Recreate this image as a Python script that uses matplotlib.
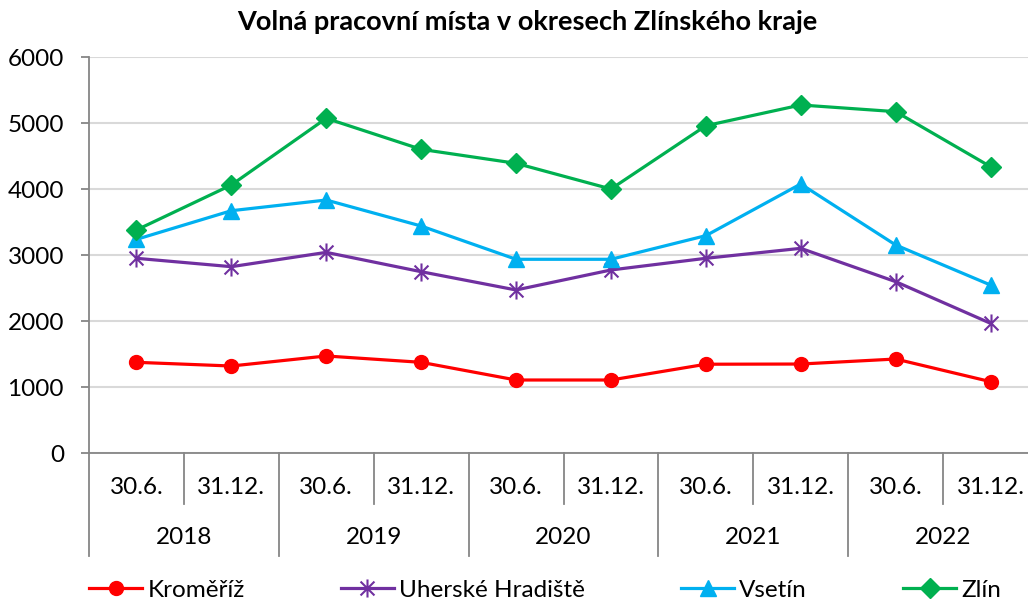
import matplotlib
matplotlib.use("Agg")
import matplotlib.pyplot as plt
from matplotlib.path import Path
from matplotlib.lines import Line2D

# data
dates = ["30.6.", "31.12."] * 5
years = ["2018", "2019", "2020", "2021", "2022"]
kromeriz = [1374, 1318, 1470, 1374, 1106, 1106, 1345, 1348, 1424, 1081]
uh_hradiste = [2950, 2823, 3040, 2747, 2470, 2773, 2950, 3101, 2596, 1965]
vsetin = [3237, 3671, 3833, 3439, 2935, 2935, 3293, 4076, 3152, 2545]
zlin = [3379, 4061, 5071, 4601, 4389, 4000, 4959, 5273, 5172, 4338]

plt.rcParams['font.family'] = ['Lato', 'DejaVu Sans']
gray = '#868686'
fs = 17.5

# excel-like star: X plus vertical bar
star = Path([(-1, -1), (1, 1), (-1, 1), (1, -1), (0, -1.3), (0, 1.3)],
            [Path.MOVETO, Path.LINETO, Path.MOVETO, Path.LINETO, Path.MOVETO, Path.LINETO])

W, H = 1028, 603
fig = plt.figure(figsize=(W / 100, H / 100), dpi=100)
ax = fig.add_axes([89 / W, (H - 453) / H, 949 / W, 396 / H])

x = list(range(len(dates)))
ax.plot(x, kromeriz, color='#FF0000', lw=2.3, marker='o', ms=10, label='Kroměříž')
ax.plot(x, uh_hradiste, color='#7030A0', lw=2.3, marker=star, ms=13, mfc='none',
        mec='#7030A0', mew=1.5, label='Uherské Hradiště')
ax.plot(x, vsetin, color='#00B0F0', lw=2.3, marker='^', ms=11, label='Vsetín')
ax.plot(x, zlin, color='#00B050', lw=2.3, marker='D', ms=10, label='Zlín')

ax.set_xlim(-0.5, 9.5)
ax.set_ylim(0, 6000)
ax.set_yticks(range(0, 6001, 1000))
ax.tick_params(axis='y', labelsize=fs, length=6, width=1.3, color=gray, pad=12)
ax.set_xticks([])
ax.grid(axis='y', color='#D9D9D9', lw=1.5)
ax.set_axisbelow(True)
for s in ['top', 'right']:
    ax.spines[s].set_visible(False)
for s in ['left', 'bottom']:
    ax.spines[s].set_color(gray)
    ax.spines[s].set_linewidth(1.3)

# two-level category axis
trans = ax.get_xaxis_transform()
short = -(504 - 453) / 396
long_ = -(556 - 453) / 396
for i in range(len(dates) + 1):
    bottom = long_ if i % 2 == 0 else short
    ax.add_line(Line2D([i - 0.5, i - 0.5], [0, bottom], transform=trans,
                       color=gray, lw=1.3, clip_on=False))
for i, d in enumerate(dates):
    ax.text(i, -(488 - 453) / 396, d, transform=trans, ha='center', va='center', fontsize=fs)
for k, yr in enumerate(years):
    ax.text(2 * k + 0.5, -(538 - 453) / 396, yr, transform=trans, ha='center', va='center', fontsize=fs)

fig.text(527 / W, 1 - 22 / H, 'Volná pracovní místa v okresech Zlínského kraje',
         ha='center', va='center', fontsize=19.5, fontweight='bold')

fig.legend(loc='center left', bbox_to_anchor=(89 / W, 1 - 590 / H), ncol=4, frameon=False,
           fontsize=fs, handlelength=2.2, handletextpad=0.2, columnspacing=3.95,
           borderpad=0, borderaxespad=0)

fig.savefig('out.png', dpi=100)
